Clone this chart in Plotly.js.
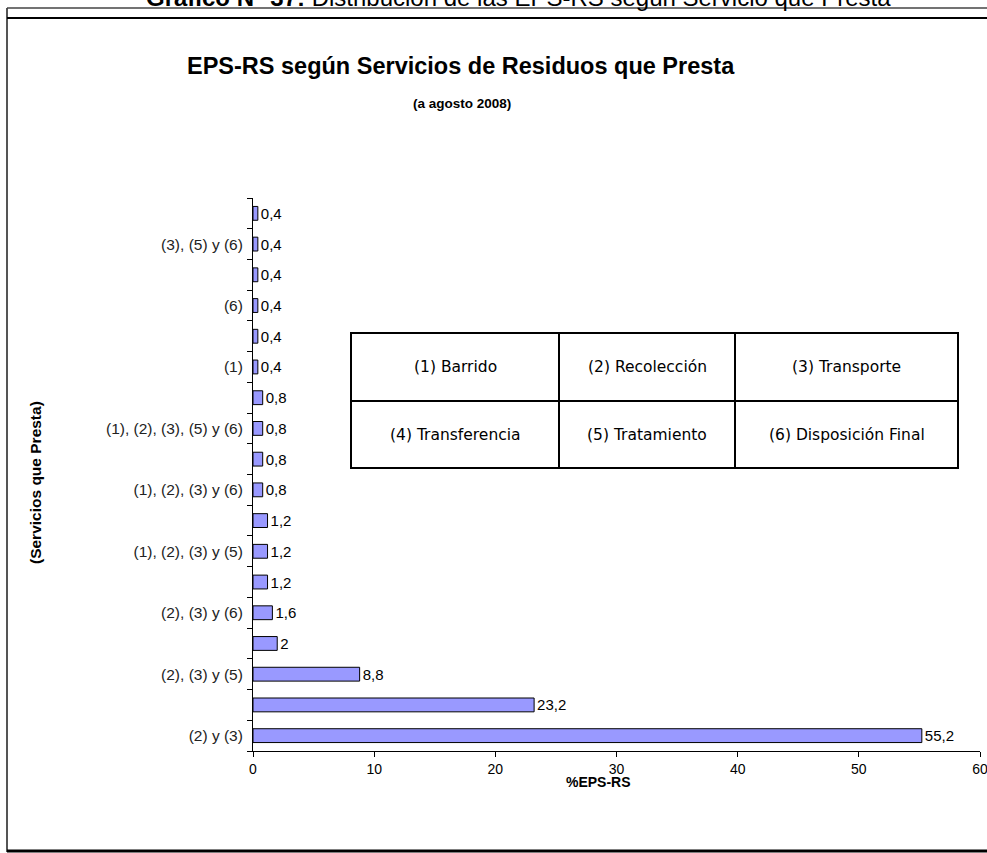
<!DOCTYPE html>
<html>
<head>
<meta charset="utf-8">
<script src="https://cdn.plot.ly/plotly-3.0.1.min.js"></script>
<style>
html,body{margin:0;padding:0;background:#fff;}
#chart{width:987px;height:853px;}
</style>
</head>
<body>
<div id="chart"></div>
<script>
// Categories from bottom to top (hidden labels are not shown on the axis)
var categories = [
  "(2) y (3)",
  "(1), (2) y (3)",
  "(2), (3) y (5)",
  "(2)",
  "(2), (3) y (6)",
  "(1), (2), (3), (5) y (6) *",
  "(1), (2), (3) y (5)",
  "(2), (3), (5) y (6)",
  "(1), (2), (3) y (6)",
  "(1), (2), (3), (4) y (6)",
  "(1), (2), (3), (5) y (6)",
  "(3) y (6)",
  "(1)",
  "(5)",
  "(6)",
  "(3)",
  "(3), (5) y (6)",
  "(1) y (2)"
];
var values = [55.2, 23.2, 8.8, 2, 1.6, 1.2, 1.2, 1.2, 0.8, 0.8, 0.8, 0.8, 0.4, 0.4, 0.4, 0.4, 0.4, 0.4];
var shownLabels = [true, false, true, false, true, false, true, false, true, false, true, false, true, false, true, false, true, false];
var xTicks = [0, 10, 20, 30, 40, 50, 60];
var legendCells = [
  ["(1) Barrido", "(2) Recolección", "(3) Transporte"],
  ["(4) Transferencia", "(5) Tratamiento", "(6) Disposición Final"]
];

var W = 987, H = 853;
var L = 253, R = 980, T = 198, B = 751;
function px(x){ return (x - L) / (R - L); }
function py(y){ return (B - y) / (B - T); }

var labels = values.map(function(v){ return String(v).replace('.', ','); });
var tickText = categories.map(function(c, i){ return shownLabels[i] ? c : ""; });

var trace = {
  type: 'bar',
  orientation: 'h',
  x: values,
  y: categories,
  text: labels,
  textposition: 'outside',
  texttemplate: '%{text}',
  constraintext: 'none',
  textfont: {family: 'Liberation Sans, Arial, sans-serif', size: 15, color: '#000'},
  cliponaxis: false,
  marker: {color: '#9999FF', line: {color: '#000', width: 1}},
  hoverinfo: 'x+y'
};

var shapes = [];
var annotations = [];

// table legend
var tx = [351, 559, 735, 958], ty = [333, 401, 468];
shapes.push({type:'rect', xref:'paper', yref:'paper', x0:px(tx[0]), x1:px(tx[3]), y0:py(ty[0]), y1:py(ty[2]), line:{color:'#000', width:2}, fillcolor:'#fff', layer:'above'});
shapes.push({type:'line', xref:'paper', yref:'paper', x0:px(tx[0]), x1:px(tx[3]), y0:py(ty[1]), y1:py(ty[1]), line:{color:'#000', width:2}});
shapes.push({type:'line', xref:'paper', yref:'paper', x0:px(tx[1]), x1:px(tx[1]), y0:py(ty[0]), y1:py(ty[2]), line:{color:'#000', width:2}});
shapes.push({type:'line', xref:'paper', yref:'paper', x0:px(tx[2]), x1:px(tx[2]), y0:py(ty[0]), y1:py(ty[2]), line:{color:'#000', width:2}});
for (var r = 0; r < 2; r++) {
  for (var c = 0; c < 3; c++) {
    annotations.push({xref:'paper', yref:'paper', x:px((tx[c]+tx[c+1])/2), y:py((ty[r]+ty[r+1])/2),
      text: legendCells[r][c], showarrow:false, xanchor:'center', yanchor:'middle',
      font:{family:'DejaVu Sans, Verdana, sans-serif', size:15.5, color:'#000'}});
  }
}

// outer frame
shapes.push({type:'line', xref:'paper', yref:'paper', x0:px(7), x1:px(7), y0:py(8), y1:py(852), line:{color:'#555', width:2}});
shapes.push({type:'line', xref:'paper', yref:'paper', x0:px(7), x1:px(990), y0:py(8), y1:py(8), line:{color:'#444', width:1.5}});
shapes.push({type:'line', xref:'paper', yref:'paper', x0:px(7), x1:px(990), y0:py(18), y1:py(18), line:{color:'#000', width:2}});
shapes.push({type:'line', xref:'paper', yref:'paper', x0:px(7), x1:px(990), y0:py(851), y1:py(851), line:{color:'#000', width:3}});

// header (cut at top)
annotations.push({xref:'paper', yref:'paper', x:px(518), y:py(13), xanchor:'center', yanchor:'bottom', showarrow:false,
  text:'<b>Gráfico N° 37:</b> Distribución de las EPS-RS según Servicio que Presta',
  font:{family:'Liberation Sans, Arial, sans-serif', size:24, color:'#000'}});

// titles
annotations.push({xref:'paper', yref:'paper', x:px(461), y:py(66), xanchor:'center', yanchor:'middle', showarrow:false,
  text:'<b>EPS-RS según Servicios de Residuos que Presta</b>',
  font:{family:'Liberation Sans, Arial, sans-serif', size:23.5, color:'#000'}});
annotations.push({xref:'paper', yref:'paper', x:px(462), y:py(103), xanchor:'center', yanchor:'middle', showarrow:false,
  text:'<b>(a agosto 2008)</b>',
  font:{family:'Liberation Sans, Arial, sans-serif', size:13.5, color:'#000'}});
annotations.push({xref:'paper', yref:'paper', x:px(598), y:py(782), xanchor:'center', yanchor:'middle', showarrow:false,
  text:'<b>%EPS-RS</b>',
  font:{family:'Liberation Sans, Arial, sans-serif', size:14, color:'#000'}});
annotations.push({xref:'paper', yref:'paper', x:px(35), y:py(483), xanchor:'center', yanchor:'middle', showarrow:false, textangle:-90,
  text:'<b>(Servicios que Presta)</b>',
  font:{family:'Liberation Sans, Arial, sans-serif', size:15.5, color:'#000'}});

var layout = {
  width: W, height: H,
  margin: {l: L, r: W - R, t: T, b: H - B, pad: 0},
  paper_bgcolor: '#fff', plot_bgcolor: '#fff',
  showlegend: false,
  bargap: 0.55,
  separators: ',.',
  font: {family: 'Liberation Sans, Arial, sans-serif', size: 15, color: '#000'},
  xaxis: {
    range: [0, 60], tickvals: xTicks, ticktext: xTicks.map(String),
    showgrid: false, zeroline: false,
    showline: true, linecolor: '#000', linewidth: 1,
    ticks: 'outside', ticklen: 5, tickcolor: '#000',
    ticklabeloverflow: 'allow',
    tickfont: {family: 'Liberation Sans, Arial, sans-serif', size: 14, color: '#000'},
    fixedrange: true
  },
  yaxis: {
    type: 'category',
    tickvals: categories, ticktext: tickText,
    tickson: 'boundaries',
    showgrid: false, zeroline: false,
    showline: true, linecolor: '#000', linewidth: 1,
    ticks: 'outside', ticklen: 5, tickcolor: '#000',
    ticklabelstandoff: 6,
    tickfont: {family: 'Liberation Sans, Arial, sans-serif', size: 15.5, color: '#222'},
    fixedrange: true
  },
  shapes: shapes,
  annotations: annotations
};

Plotly.newPlot('chart', [trace], layout, {displayModeBar: false, staticPlot: true});
</script>
</body>
</html>
